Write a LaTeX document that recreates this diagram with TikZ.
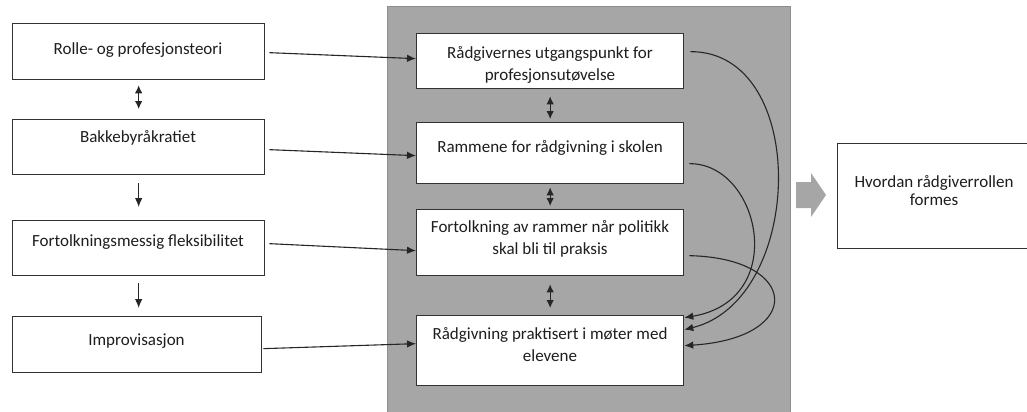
\documentclass[tikz,border=0pt]{standalone}
\usepackage{fontspec}
\setmainfont{Carlito}
\usetikzlibrary{arrows.meta}
\definecolor{panelgray}{HTML}{A6A6A6}
\definecolor{paneledge}{HTML}{8E8E8E}
\definecolor{inkgray}{HTML}{1E1E1E}
\begin{document}
\begin{tikzpicture}[x=1bp,y=-1bp,
  box/.style={draw=black!80, line width=1.3bp, fill=white, inner sep=0pt, anchor=north west},
  lbl/.style={font=\fontsize{17bp}{22bp}\selectfont, text=inkgray, align=center, anchor=base, inner sep=0pt},
  tip/.style={Latex[length=9bp,width=7.5bp]},
  link/.style={draw=black!85, line width=1.1bp, -{Latex[length=9bp,width=7.5bp]}},
  twoway/.style={draw=black!85, line width=1.1bp, {Latex[length=8bp,width=7.5bp]}-{Latex[length=8bp,width=7.5bp]}},
]
\useasboundingbox (0,0) rectangle (1027,411);
\clip (0,0) rectangle (1027,411);

% grey panel behind the middle column
\node[fill=panelgray, draw=paneledge, line width=1bp, minimum width=403bp, minimum height=412bp,
      inner sep=0pt, anchor=north west] (panel) at (387,6) {};

% left column
\node[box, minimum width=252bp, minimum height=56bp] (b1) at (12,23) {};
\node[box, minimum width=252bp, minimum height=55bp] (b2) at (12,119) {};
\node[box, minimum width=252bp, minimum height=55bp] (b3) at (12,220) {};
\node[box, minimum width=249bp, minimum height=56bp] (b4) at (12,316) {};
\node[lbl] (t1) at (138,54) {Rolle- og profesjonsteori};
\node[lbl] (t2) at (138,142) {Bakkebyråkratiet};
\node[lbl] (t3) at (138,246) {Fortolkningsmessig fleksibilitet};
\node[lbl] (t4) at (136.5,345) {Improvisasjon};

% middle column (multi-line labels sit on the baseline of their last line)
\node[box, minimum width=267bp, minimum height=55bp] (cA) at (416,33) {};
\node[box, minimum width=267bp, minimum height=61bp] (cB) at (416,122) {};
\node[box, minimum width=267bp, minimum height=66bp] (cC) at (416,209) {};
\node[box, minimum width=267bp, minimum height=70bp] (cD) at (416,315) {};
\node[lbl] (tA) at (550,80) {Rådgivernes utgangspunkt for\\profesjonsutøvelse};
\node[lbl] (tB) at (550,152) {Rammene for rådgivning i skolen};
\node[lbl] (tC) at (550,254) {Fortolkning av rammer når politikk\\skal bli til praksis};
\node[lbl] (tD) at (550,361) {Rådgivning praktisert i møter med\\elevene};

% outcome
\node[box, minimum width=194bp, minimum height=105bp] (out) at (837,143) {};
\node[lbl] (tOut) at (934,205) {Hvordan rådgiverrollen\\[-4bp]formes};

% block arrow towards the outcome
\fill[panelgray] (796,182) -- (811,182) -- (811,173) -- (826,195) -- (811,217)
  -- (811,208) -- (796,208) -- cycle;

% links within the left column
\draw[twoway, shorten <=5bp, shorten >=10bp] (b1) -- (b2);
\draw[link, shorten <=8bp, shorten >=13bp] (b2) -- (b3);
\draw[link, shorten <=7bp, shorten >=8bp] (b3.south) -- (b3.south |- b4.north);

% links within the middle column
\draw[twoway, shorten <=7bp, shorten >=3bp] (cA) -- (cB);
\draw[twoway, shorten <=3bp, shorten >=3bp] (cB) -- (cC);
\draw[twoway, shorten <=8bp, shorten >=7bp] (cC) -- (cD);

% theory -> empirical themes
\draw[link] ([xshift=4bp,yshift=-1bp]b1.east) -- ([yshift=2.5bp]cA.west);
\draw[link] ([xshift=4bp,yshift=-2.5bp]b2.east) -- ([yshift=-2.5bp]cB.west);
\draw[link] ([xshift=4bp,yshift=4.5bp]b3.east) -- ([yshift=-8bp]cC.west);
\draw[link] ([xshift=1bp,yshift=-4bp]b4.east) -- ([yshift=7bp]cD.west);

% curved links into the practice box
\draw[link] ([xshift=6bp,yshift=9.5bp]cA.east) .. controls (810,51) and (805,300) .. ([yshift=21bp]cD.east);
\draw[link] ([xshift=5bp,yshift=-10.5bp]cB.east) .. controls (760,163) and (790,300) .. ([yshift=33bp]cD.east);
\draw[link] ([xshift=5bp,yshift=-13bp]cC.east) .. controls (800,258) and (805,338) .. ([yshift=5bp]cD.east);
\end{tikzpicture}
\end{document}
